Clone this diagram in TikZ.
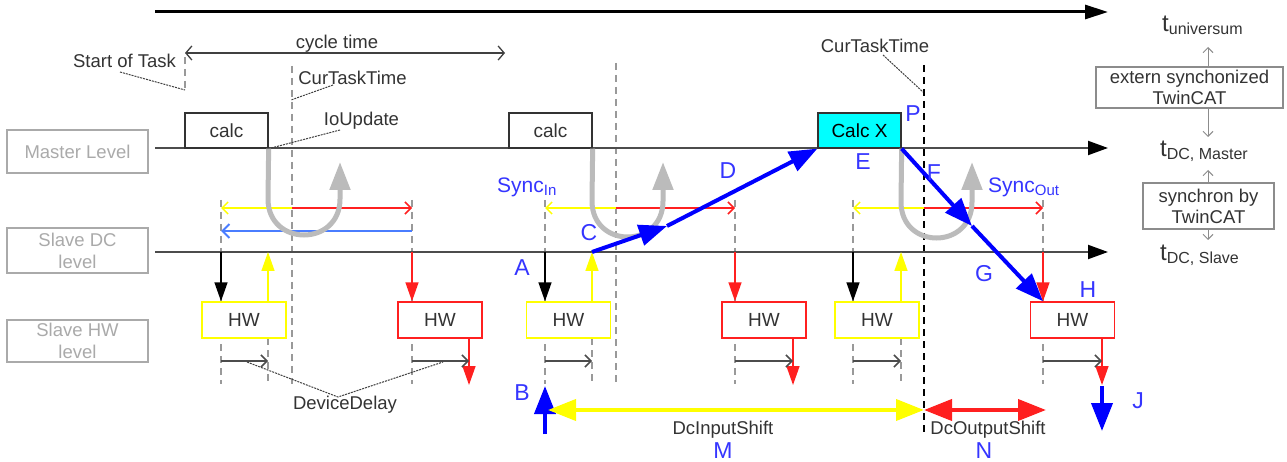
\documentclass[tikz,border=0pt]{standalone}
\usepackage{fontspec}
\setmainfont{Liberation Sans}
\usetikzlibrary{arrows.meta}
\definecolor{txt}{HTML}{333333}
\definecolor{lvl}{HTML}{AAAAAA}
\definecolor{bl}{HTML}{3535FF}
\definecolor{ublue}{HTML}{0000FF}
\definecolor{sblue}{HTML}{4A7DFF}
\definecolor{ugray}{HTML}{BBBBBB}
\definecolor{uyel}{HTML}{FFFF00}
\definecolor{ured}{HTML}{FF2020}
\definecolor{ucyan}{HTML}{00FFFF}
\begin{document}
\begin{tikzpicture}[x=1pt,y=-1pt,
  base/.style={font=\fontsize{18.5}{21}\selectfont, text=txt, inner sep=0pt},
  letter/.style={font=\fontsize{23}{23}\selectfont, text=bl, inner sep=0pt},
  lvlbox/.style={draw=lvl, line width=1.5pt, text=lvl, font=\fontsize{18.5}{22}\selectfont, align=center, minimum width=141pt, inner sep=0pt},
  hwbox/.style={line width=1.5pt, fill=white, minimum width=84pt, minimum height=36pt, font=\fontsize{19}{19}\selectfont, text=txt, inner sep=0pt},
  calcbox/.style={draw=black!80, line width=1.3pt, minimum width=83pt, minimum height=35pt, font=\fontsize{19}{19}\selectfont, text=txt, inner sep=0pt},
  timeline/.style={line width=2pt, draw=black!70, -{Triangle[length=20pt,width=14pt,color=black]}},
  vdash/.style={draw=black!40, line width=1.3pt, dash pattern=on 7pt off 5pt},
  leader/.style={draw=black!75, line width=1pt, dash pattern=on 2pt off 1pt},
  uturn/.style={draw=ugray, line width=5pt, -{Triangle[length=28pt,width=20pt]}},
  barb/.style={line width=1.5pt, -{Straight Barb[length=6pt,width=12pt]}},
  fat/.style={line width=4pt, -{Triangle[length=28pt,width=21pt]}},
  fatboth/.style={line width=4pt, {Triangle[length=28pt,width=21pt]}-{Triangle[length=28pt,width=21pt]}},
  dn/.style={line width=1.5pt, -{Triangle[length=19pt,width=13pt]}},
  rbox/.style={draw=black!45, line width=1.2pt, text=txt, font=\fontsize{18.5}{21}\selectfont, align=center, inner sep=0pt},
  small/.style={draw=black!45, line width=1pt, -{Straight Barb[length=5pt,width=10pt]}},
]
\useasboundingbox[fill=white] (0,0) rectangle (1287,462);

% guide dashed lines
\foreach \x in {221,412,545,735,853,1043} \draw[vdash] (\x,200) -- (\x,384);
\foreach \x in {268,592,901} \draw[vdash] (\x,338) -- (\x,384);
\draw[vdash] (292,66) -- (292,384);
\draw[vdash] (616,63) -- (616,384);
\draw[vdash] (185,57) -- (185,92);
\draw[vdash, draw=black] (924,65) -- (924,434);

% time lines
\coordinate (tl0) at (155,12); \coordinate (tl1) at (1108,12);
\coordinate (ml0) at (155,148); \coordinate (ml1) at (1108,148);
\coordinate (sl0) at (155,252); \coordinate (sl1) at (1108,252);
\draw[line width=3pt, -{Triangle[length=23pt,width=14pt]}] (tl0) -- (tl1);
\draw[timeline] (ml0) -- (ml1);
\draw[timeline] (sl0) -- (sl1);

% level boxes
\node[lvlbox, minimum height=43pt] (mlev) at (77.5,151.5) {Master Level};
\node[lvlbox, minimum height=45pt] (sdc) at (77.5,250.5) {Slave DC\\level};
\node[lvlbox, minimum height=42pt] (shw) at (77.5,341) {Slave HW\\level};

% calc boxes
\node[calcbox] (calc1) at (226.5,130.5) {calc};
\node[calcbox] (calc2) at (550.5,130.5) {calc};
\node[calcbox, fill=ucyan] (calcx) at (859.5,130.5) {\color{black}Calc X};

% cycle time
\coordinate (cy0) at (185,53); \coordinate (cy1) at (505,53);
\draw[line width=1.3pt, draw=black!75, {Straight Barb[length=6pt,width=14pt]}-{Straight Barb[length=6pt,width=14pt]}] (cy0) -- (cy1);
\node[base] (cyt) at (337,44) {cycle time};

% annotations
\node[base] (sot) at (124.5,61) {Start of Task};
\draw[leader] (120,72) -- (185,90);
\node[base] (ctt1) at (352.5,78) {CurTaskTime};
\draw[leader] (333,85) -- (291,100);
\node[base] (iou) at (361.5,121) {IoUpdate};
\draw[leader] (340,130) -- (calc1.south east);
\node[base] (ctt2) at (875,46) {CurTaskTime};
\draw[leader] (883,55) -- (923,92);

% HW boxes
\node[hwbox, draw=uyel] (hw1) at (244,320) {HW};
\node[hwbox, draw=ured] (hw2) at (440,320) {HW};
\node[hwbox, draw=uyel] (hw3) at (568.5,320) {HW};
\node[hwbox, draw=ured] (hw4) at (764,320) {HW};
\node[hwbox, draw=uyel] (hw5) at (877,320) {HW};
\node[hwbox, draw=ured] (hw6) at (1072.5,320) {HW};

% sync arrows row
\foreach \m/\l/\r in {292/221/412, 616/545/735, 924/853/1043} {
  \draw[barb, draw=uyel] (\m,208) -- (\l,208);
  \draw[barb, draw=ured] (\m,208) -- (\r,208);
}
\draw[line width=2pt, draw=sblue, -{Straight Barb[length=7pt,width=14pt]}] (412,231) -- (221,231);

% slave DC -> HW arrows
\foreach \h/\xb/\xy in {hw1/221/268, hw3/545/592, hw5/853/901} {
  \coordinate (b\h) at (\xb,252);
  \draw[dn, black] (b\h) -- (b\h |- \h.north);
  \coordinate (y\h) at (\xy,252);
  \draw[dn, draw=uyel, fill=uyel] (y\h |- \h.north) -- (y\h);
}
\foreach \h/\xr/\xo in {hw2/412/469, hw4/735/793, hw6/1043/1102} {
  \coordinate (r\h) at (\xr,252);
  \draw[dn, draw=ured, fill=ured] (r\h) -- (r\h |- \h.north);
  \coordinate (o\h) at (\xo,385);
  \draw[dn, draw=ured, fill=ured] (o\h |- \h.south) -- (o\h);
}

% device delay arrows
\foreach \a/\b in {221/268, 412/469, 545/592, 735/793, 853/901, 1043/1102}
  \draw[barb, draw=black!70] (\a,361) -- (\b,361);
\node[base] (dd) at (345,405) {DeviceDelay};
\draw[leader] (247,362) -- (338,397) -- (443,362);

% gray U-turns
\draw[uturn] (calc1.south east) -- (268,199) .. controls (268,247) and (340,247) .. (340,199) -- (340,162);
\draw[uturn] (calc2.south east) -- (592,201) .. controls (592,249) and (663,249) .. (663,201) -- (663,162);
\draw[uturn] (calcx.south east) -- (901,202) .. controls (901,250) and (972,250) .. (972,202) -- (972,162);

% blue paths
\coordinate (C) at (592,252);
\coordinate (Cm) at (667,226);
\draw[fat, draw=ublue, fill=ublue] (C) -- (Cm);
\draw[fat, draw=ublue, fill=ublue] (Cm) -- (calcx.south west);
\coordinate (Fm) at (972,226);
\draw[fat, draw=ublue, fill=ublue] (calcx.south east) -- (Fm);
\draw[fat, draw=ublue, fill=ublue] (Fm) -- (rhw6 |- hw6.north);
\coordinate (B0) at (545,434); \coordinate (B1) at (545,386);
\draw[fat, draw=ublue, fill=ublue] (B0) -- (B1);
\coordinate (J0) at (1102,386); \coordinate (J1) at (1102,431);
\draw[fat, draw=ublue, fill=ublue] (J0) -- (J1);

% shifts
\coordinate (m0) at (548,410); \coordinate (m1) at (924,410); \coordinate (n1) at (1046,410);
\draw[fatboth, draw=uyel, fill=uyel] (m0) -- (m1);
\draw[fatboth, draw=ured, fill=ured] (m1) -- (n1);
\node[base] (dis) at (723,430) {DcInputShift};
\node[base] (dos) at (988,430) {DcOutputShift};

% blue letters
\node[letter] (lA) at (522,268) {A};
\node[letter] (lB) at (522,393) {B};
\node[letter] (lC) at (589,233) {C};
\node[letter] (lD) at (728,171) {D};
\node[letter] (lE) at (863,162) {E};
\node[letter] (lF) at (934,173) {F};
\node[letter] (lG) at (984,274) {G};
\node[letter] (lH) at (1088,290) {H};
\node[letter] (lJ) at (1138,401) {J};
\node[letter] (lP) at (913,114) {P};
\node[letter] (lM) at (723,451) {M};
\node[letter] (lN) at (984,451) {N};
\node[anchor=base west, text=bl, font=\fontsize{21}{21}\selectfont, inner sep=0pt] (syncin) at (497,193) {Sync\raisebox{-3pt}{\fontsize{15}{15}\selectfont In}};
\node[anchor=base west, text=bl, font=\fontsize{21}{21}\selectfont, inner sep=0pt] (syncout) at (988,193) {Sync\raisebox{-3pt}{\fontsize{15}{15}\selectfont Out}};

% right side
\node[anchor=base west, text=txt, font=\fontsize{24}{24}\selectfont, inner sep=0pt] (tu) at (1162,32) {t\raisebox{-3pt}{\fontsize{16}{16}\selectfont universum}};
\node[anchor=base west, text=txt, font=\fontsize{24}{24}\selectfont, inner sep=0pt] (tm) at (1160,157) {t\raisebox{-3pt}{\fontsize{16}{16}\selectfont DC, Master}};
\node[anchor=base west, text=txt, font=\fontsize{24}{24}\selectfont, inner sep=0pt] (ts) at (1160,261) {t\raisebox{-3pt}{\fontsize{16}{16}\selectfont DC, Slave}};
\node[rbox, minimum width=187pt, minimum height=41pt] (ext) at (1189.5,87.5) {extern synchonized\\TwinCAT};
\node[rbox, minimum width=131pt, minimum height=46pt] (syn) at (1208.5,206) {synchron by\\TwinCAT};
\coordinate (u0) at (1208,47); \coordinate (u1) at (1208,137);
\coordinate (u2) at (1208,170); \coordinate (u3) at (1208,240);
\draw[small] (ext.north -| u0) -- (u0);
\draw[small] (ext.south -| u1) -- (u1);
\draw[small] (syn.north -| u2) -- (u2);
\draw[small] (syn.south -| u3) -- (u3);
\end{tikzpicture}
\end{document}
